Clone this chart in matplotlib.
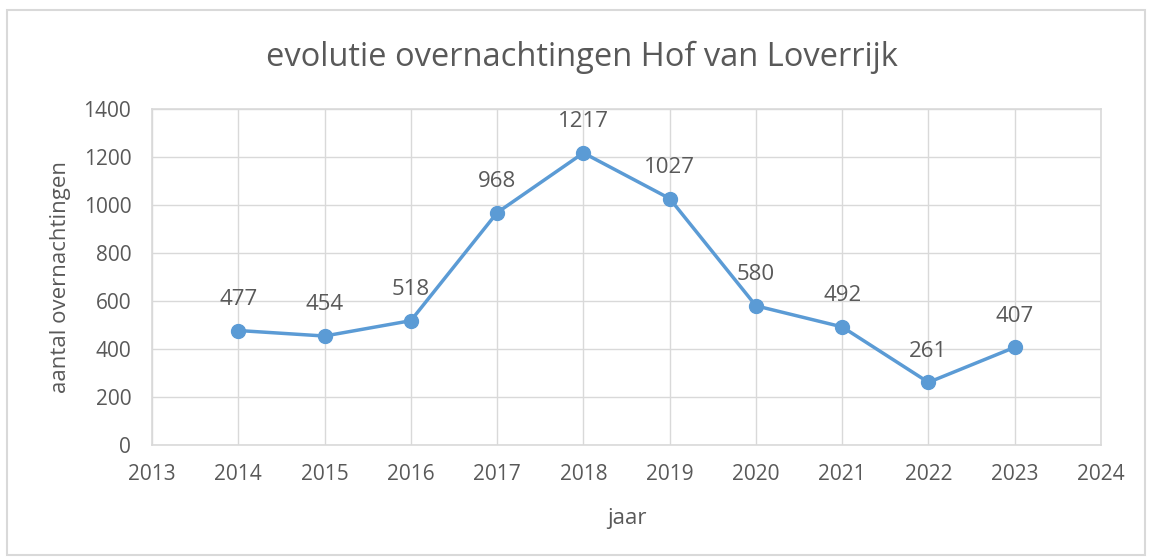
import matplotlib.pyplot as plt
from matplotlib.patches import Rectangle

# Data
jaren = [2014, 2015, 2016, 2017, 2018, 2019, 2020, 2021, 2022, 2023]
overnachtingen = [477, 454, 518, 968, 1217, 1027, 580, 492, 261, 407]

tekst_kleur = '#595959'
lijn_kleur = '#5B9BD5'
grid_kleur = '#D9D9D9'

plt.rcParams['font.family'] = ['Open Sans', 'DejaVu Sans']

fig = plt.figure(figsize=(11.5, 5.57), dpi=100)
ax = fig.add_axes([0.1322, 0.2011, 0.8252, 0.6032])

# Line with markers
ax.plot(jaren, overnachtingen, color=lijn_kleur, linewidth=2.5,
        marker='o', markersize=10, zorder=3)

# Data labels above each point
for x, y in zip(jaren, overnachtingen):
    ax.annotate(str(y), (x, y), xytext=(0, 22.5), textcoords='offset points',
                ha='center', va='center', fontsize=16, color=tekst_kleur)

ax.set_xlim(2013, 2024)
ax.set_ylim(0, 1400)
ax.set_xticks(range(2013, 2025))
ax.set_yticks(range(0, 1401, 200))

ax.grid(True, color=grid_kleur, linewidth=1)
ax.set_axisbelow(True)
for s in ax.spines.values():
    s.set_color(grid_kleur)
    s.set_linewidth(1.2)
ax.tick_params(length=0, labelsize=15, labelcolor=tekst_kleur)
ax.tick_params(axis='y', pad=15)
ax.tick_params(axis='x', pad=14)

ax.set_xlabel('jaar', fontsize=16, color=tekst_kleur, labelpad=16)
ax.set_ylabel('aantal overnachtingen', fontsize=16, color=tekst_kleur, labelpad=9)
fig.text(0.506, 0.897, 'evolutie overnachtingen Hof van Loverrijk',
         ha='center', va='center', fontsize=23.5, color=tekst_kleur)

# Light frame around the whole chart
fig.patches.append(Rectangle((0.006, 0.004), 0.99, 0.978, transform=fig.transFigure,
                             fill=False, edgecolor=grid_kleur, linewidth=1.5))

fig.savefig('out.png', dpi=100)
